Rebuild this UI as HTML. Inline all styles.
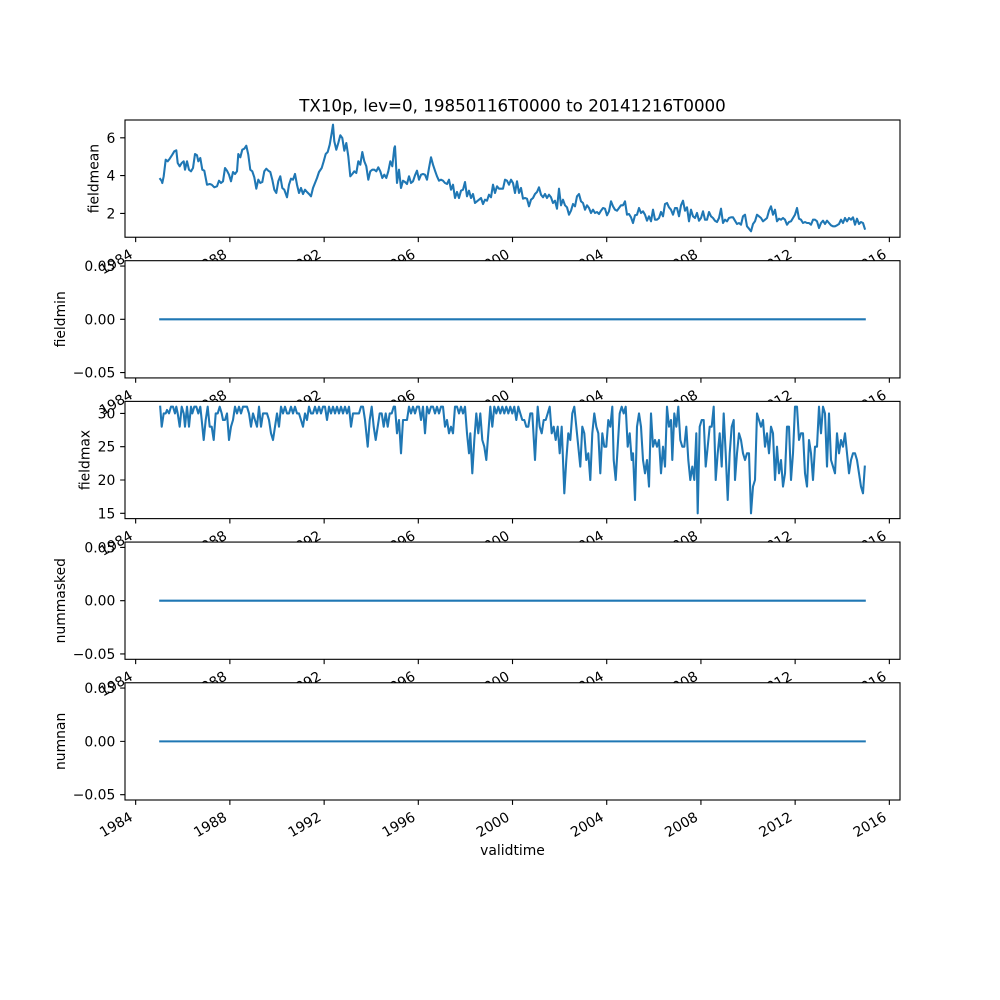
<!DOCTYPE html>
<html><head><meta charset="utf-8"><style>
html,body{margin:0;padding:0;background:#fff;}
svg{display:block;}
text{font-family:"DejaVu Sans","Liberation Sans",sans-serif;fill:#000;}
.tl{font-size:13.9px;}
.yl{font-size:13.9px;text-anchor:end;}
.xl{font-size:13.9px;text-anchor:end;}
.ax{fill:none;stroke:#000;stroke-width:1.11;}
.tk{stroke:#000;stroke-width:1.11;fill:none;}
.ln{fill:none;stroke:#1f77b4;stroke-width:2.08;stroke-linejoin:round;stroke-linecap:square;}
</style></head><body>
<svg width="1000" height="1000" viewBox="0 0 1000 1000" xmlns="http://www.w3.org/2000/svg">
<rect width="1000" height="1000" fill="#fff"/>

<!-- Title -->
<text x="512.5" y="111.7" font-size="16.7" text-anchor="middle">TX10p, lev=0, 19850116T0000 to 20141216T0000</text>

<!-- ============ Panel 1 ============ -->
<rect x="125" y="120" width="775" height="117.24" fill="#fff"/>
<polyline class="ln" points="160.2,179 161.5,180.7 162.3,183 163.7,176.3 165.7,159.7 167.7,161.3 169.7,158.7 172.3,154.7 174.3,151.3 176.3,150.3 177.7,163 179.7,166.3 181.7,163 183.7,161.3 185,169.7 187,161.3 189,169.7 191,171.3 193,168 195,154 197,155.3 198.3,161.3 200.3,158 202.3,169.7 204.3,170.7 207,184.7 209.7,184 211.7,184.7 214.3,187.3 217,186.3 219,180.7 221,183 223,181.3 225,168 227,170.7 229,174.7 231,181.3 233,172 235,174 237,171.3 238.3,154 240.3,157.3 242.3,149.7 244.3,148.7 246.3,145.7 248.3,154.7 250.3,169.7 252.3,171.3 254.3,177.3 256.3,188.7 258.3,179.7 260.3,183 262.3,182 264.3,171.3 266.3,168.7 268.3,170.7 270.3,172 272.3,179.7 274.3,189.7 276.3,193 278.3,181.3 280.3,176.3 282.3,188 284.3,189.7 287,197.3 289,184.7 291,178.7 293,179.7 295,174 297,184.7 299,193 301,188 303,194 305,189.7 307,192 309,194 311,196.3 313,188 315,183 317,178 319,172 321.7,168 323.7,161.3 325.7,154 327.7,152 329.7,144.7 331.7,133 333,124.7 334.3,141.3 336.3,149.7 338.3,143 340.3,135.3 342.3,138 344.3,150.7 346.3,143 348.3,156.3 350.3,176.3 352.3,174 354.3,171.3 356.3,173 358.3,161.3 360.3,164.7 362.3,152 364.3,161.3 366.3,166.3 368.3,179.7 370.3,171.3 372.3,169.7 374.3,169.7 376.3,171.3 378.3,167.3 380.3,171.3 382.3,178 384.3,174.7 386.3,178 388.3,171.3 390.3,161.3 392.3,166.3 394.3,148 395,146.3 397,183 399,169.7 401,188 403,180.7 405,182 407,184 409,176.3 411,183 413,181.3 415,175.3 417,170.7 419,179.7 421,174.7 423,174 425,174.7 427,179.7 429,168 431,157.3 433,164.7 435,170.7 437,176.3 439,180.7 441,179.7 443,180.7 445,183 447,184 449,179.7 451,189.7 453,184.7 455,198 457,192 459,198 461,190.7 463,189.7 465,182 467,196.3 469,190.7 471,198 473,194 475,203 477,201.3 479,199.7 481,198 483,204 485,199.7 487,200.7 489,194.7 491,197.3 493,184.7 495,193 497,186.3 499,188.7 501,188.7 503,188.7 505,179.7 507,180.7 509,184.7 511,179.7 513,183 515,193 517,181.3 519,193 521,188 523,198.7 525,198 527,198.7 529,206.3 531,199.7 533,198 535,194 537,192 539,187.3 541,194.7 543,197.3 545,194 547,198 549,194.7 551,197.3 553,203 555,200.7 557,208.7 559,188.7 561,205.3 563,199.7 565,205.3 567,207.3 569,214.7 571,210.7 573,204 575,206.3 577,196.3 579,194 581,201.3 583,203 585,209.7 587,205.3 589,208 591,213 593,209.7 595,213 597,212 599,214 601,210.7 603,208 605,208.7 607,215.3 609,211.3 611,201.3 613,206.3 615,209.7 617,210.7 619,208 621,205.3 623,205.3 625,201.3 627,214.7 629,214 631,217.3 633,223 635,215.3 637,214.7 639,208 641,213 643,211.3 645,214.7 647,220.7 649,216.3 651,221.3 653,209.7 655,219.7 657,219.7 659,218 661,212 663,216.3 665,204 667,203 669,207.3 671,209.7 673,214.7 675,208 677,208 679,216.3 681,205.3 683,200.7 685,210.7 687,207.3 689,221.3 691,209.7 693,216.3 695,218 697,213 699,220.7 701,218 703,211.3 705,219.7 707,219.7 709,212 711,216.3 713,218 715,220.7 717,222 719,218 721,208.7 723,223 725,219.7 727,221.3 729,218 731,217.3 733,217.3 735,220.7 737,224 739,223 741,224.7 743,216.3 745,214.7 747,226.3 749,228.7 751,231.3 753,224 755,221.3 757,214.7 759,216.3 761,218 763,221.3 765,219.7 767,218 769,210.7 771,206.3 773,214.7 775,209.7 777,221.3 779,218.7 781,219.7 783,218 785,219.7 787,224.7 789,222 791,221.3 793,218 795,214.7 797,208 799,218.7 801,219.7 803,223 805,222 807,223 809,223 811,224.7 813,219.7 815,219.7 817,221.3 819,228 821,223 823,220.7 825,224 827,220.7 829,223 831,225.3 833,226.3 835,226.3 837,225.3 839,224 841,219.7 843,223 845,218 847,221.3 849,218 851,219.7 853,217.3 855,224.7 857,218.7 859,224 861,222 863,223 864.8,228.7"/>
<rect class="ax" x="125" y="120" width="775" height="117.24"/>
<path class="tk" d="M135.66 237.24v4.86M229.87 237.24v4.86M324.15 237.24v4.86M418.3 237.24v4.86M512.51 237.24v4.86M606.72 237.24v4.86M700.93 237.24v4.86M795.14 237.24v4.86M889.35 237.24v4.86M125 213.4h-4.86M125 175.6h-4.86M125 137.8h-4.86"/>
<text class="yl" x="115.3" y="218.4">2</text>
<text class="yl" x="115.3" y="180.6">4</text>
<text class="yl" x="115.3" y="142.8">6</text>
<g class="xl">
<text transform="translate(133.7,257) rotate(-30)">1984</text>
<text transform="translate(227.9,257) rotate(-30)">1988</text>
<text transform="translate(322.2,257) rotate(-30)">1992</text>
<text transform="translate(416.3,257) rotate(-30)">1996</text>
<text transform="translate(510.5,257) rotate(-30)">2000</text>
<text transform="translate(604.7,257) rotate(-30)">2004</text>
<text transform="translate(698.9,257) rotate(-30)">2008</text>
<text transform="translate(793.1,257) rotate(-30)">2012</text>
<text transform="translate(887.4,257) rotate(-30)">2016</text>
</g>
<text class="tl" transform="translate(98.5,178.6) rotate(-90)" text-anchor="middle">fieldmean</text>

<!-- ============ Panel 2 ============ -->
<rect x="125" y="260.69" width="775" height="117.24" fill="#fff"/>
<line class="ln" x1="160.23" y1="319.31" x2="864.77" y2="319.31"/>
<rect class="ax" x="125" y="260.69" width="775" height="117.24"/>
<path class="tk" d="M135.66 377.93v4.86M229.87 377.93v4.86M324.15 377.93v4.86M418.3 377.93v4.86M512.51 377.93v4.86M606.72 377.93v4.86M700.93 377.93v4.86M795.14 377.93v4.86M889.35 377.93v4.86M125 266.02h-4.86M125 319.31h-4.86M125 372.6h-4.86"/>
<text class="yl" x="115.3" y="271.02">0.05</text>
<text class="yl" x="115.3" y="324.31">0.00</text>
<text class="yl" x="115.3" y="377.6">−0.05</text>
<g class="xl">
<text transform="translate(133.7,397.7) rotate(-30)">1984</text>
<text transform="translate(227.9,397.7) rotate(-30)">1988</text>
<text transform="translate(322.2,397.7) rotate(-30)">1992</text>
<text transform="translate(416.3,397.7) rotate(-30)">1996</text>
<text transform="translate(510.5,397.7) rotate(-30)">2000</text>
<text transform="translate(604.7,397.7) rotate(-30)">2004</text>
<text transform="translate(698.9,397.7) rotate(-30)">2008</text>
<text transform="translate(793.1,397.7) rotate(-30)">2012</text>
<text transform="translate(887.4,397.7) rotate(-30)">2016</text>
</g>
<text class="tl" transform="translate(64.8,319.31) rotate(-90)" text-anchor="middle">fieldmin</text>

<!-- ============ Panel 3 ============ -->
<rect x="125" y="401.38" width="775" height="117.24" fill="#fff"/>
<polyline class="ln" points="160.2,406.7 161.7,426.7 163.7,413.4 165.7,413.4 167,410 169,413.4 171,406.7 173,406.7 175,413.4 176.3,406.7 177.7,413.4 179.7,426.7 181.7,406.7 183.7,413.4 185,426.7 187,406.7 189,426.7 191,406.7 192.3,413.4 194.3,406.7 196.3,406.7 198.3,413.4 200.3,406.7 201.7,420 203.7,440 205.7,420 207.7,406.7 209.7,426.7 211.7,426.7 213.7,440 215.7,413.4 217.7,413.4 219.7,406.7 221.7,413.4 223,420 225,420 227,413.4 229,440 231,426.7 233,420 235,406.7 237,413.4 239,406.7 241,413.4 243,406.7 245,406.7 247,406.7 249,413.4 251,426.7 253,413.4 255,420 257,426.7 259,406.7 261,426.7 263,413.4 265,413.4 267,413.4 269,420 271,433.3 273,440 275,426.7 277,413.4 279,426.7 281,406.7 283,413.4 285,406.7 287,413.4 289,413.4 291,406.7 293,413.4 295,406.7 297,413.4 299,413.4 301,420 303,426.7 305,413.4 307,420 309,406.7 311,413.4 313,413.4 315,406.7 317,413.4 319,406.7 321,413.4 323,406.7 325,406.7 327,420 329,406.7 331,413.4 333,406.7 335,413.4 337,406.7 339,413.4 341,406.7 343,413.4 345,406.7 347,413.4 349,406.7 351,426.7 353,413.4 355,413.4 357,413.4 359,413.4 361,406.7 363,406.7 365,420 367.7,446.7 369.7,420 371.7,406.7 373.7,426.7 375.7,440 377.7,426.7 379.7,413.4 381.7,413.4 383.7,426.7 385.7,413.4 387.7,426.7 389.7,413.4 391.7,413.4 393.7,406.7 395,406.7 397,433.3 399,420 401,453.3 403,420 405,420 407,420 409,406.7 411,413.4 413,406.7 415,413.4 417,406.7 419,406.7 421,420 423,406.7 425,433.3 427,406.7 429,413.4 431,406.7 433,406.7 435,413.4 437,406.7 439,413.4 441,406.7 443,406.7 445,426.7 447,420 449,433.3 451,426.7 453,433.3 455,406.7 457,406.7 459,413.4 461,406.7 463,413.4 465,406.7 467,433.3 469,453.3 470.3,433.3 472.3,473.3 474.3,440 476.3,413.4 478.3,433.3 480.3,413.4 482.3,440 484.3,446.7 486.3,460 488.3,433.3 490.3,406.7 492.3,426.7 494.3,406.7 496.3,413.4 498.3,406.7 500.3,413.4 502.3,406.7 504.3,413.4 506.3,406.7 508.3,413.4 510.3,406.7 512.3,413.4 514.3,406.7 516.3,420 518.3,406.7 520.3,413.4 522.3,420 524.3,420 526.3,426.7 528.3,426.7 530.3,413.4 532.3,413.4 535,460 537.7,406.7 539.7,426.7 541.7,433.3 543.7,420 545.7,420 547.7,413.4 549.7,406.7 551.7,433.3 553.7,426.7 555.7,440 557.7,426.7 559.7,453.3 561.7,426.7 564.3,493.3 566.3,460 568.3,433.3 570.3,440 572.3,413.4 574.3,406.7 576.3,426.7 578.3,446.7 580.3,466.6 582.3,426.7 584.3,433.3 586.3,460 588.3,453.3 590.3,480 592.3,433.3 594.3,413.4 596.3,426.7 598.3,433.3 600.3,473.3 602.3,433.3 604.3,446.7 606.3,446.7 608.3,420 610.3,426.7 612.3,406.7 613.7,460 615.7,480 617.7,446.7 619.7,413.4 621.7,406.7 623.7,413.4 625.7,406.7 627.7,446.7 629.7,433.3 631.7,460 633,453.3 635,500 637,426.7 639,413.4 641,426.7 643,460 645,473.3 647,460 649,486.6 651,413.4 653,446.7 655,440 657,446.7 659,440 661,473.3 663,446.7 665,466.6 667,406.7 669,426.7 671,420 672.3,460 674.3,413.4 676.3,426.7 678.3,406.7 680.3,440 682.3,446.7 684.3,446.7 686.3,426.7 688.3,460 690.3,480 692.3,466.6 694.3,480 696.3,433.3 697.7,513.3 699.7,426.7 701.7,420 703.7,420 705.7,466.6 707.7,446.7 709.7,426.7 711.7,426.7 713.7,406.7 715.7,480 717.7,453.3 719.7,433.3 721.7,466.6 723.7,413.4 725.7,453.3 727.7,500 729.7,453.3 731.7,426.7 733.7,420 735,480 737,453.3 739,433.3 741,440 743,453.3 745,460 747,453.3 749,453.3 751,513.3 753,486.6 755,480 757,413.4 759,420 761,426.7 763,420 765,446.7 767,433.3 769,453.3 771,426.7 773,433.3 775,480 777,446.7 779,473.3 781,460 783,486.6 785,473.3 787,426.7 789,426.7 791,480 793,453.3 795,406.7 797,406.7 799,440 801,433.3 803,433.3 805,473.3 807,486.6 809,440 811,453.3 813,480 815,446.7 817,446.7 819,406.7 821,433.3 823,406.7 825,413.4 827,466.6 829,413.4 831,460 833,466.6 835,473.3 837,433.3 839,453.3 841,440 843,446.7 845,433.3 847,453.3 849,473.3 851,460 853,453.3 855,453.3 857,460 859,473.3 861,486.6 863,493.3 864.8,466.6"/>
<rect class="ax" x="125" y="401.38" width="775" height="117.24"/>
<path class="tk" d="M135.66 518.62v4.86M229.87 518.62v4.86M324.15 518.62v4.86M418.3 518.62v4.86M512.51 518.62v4.86M606.72 518.62v4.86M700.93 518.62v4.86M795.14 518.62v4.86M889.35 518.62v4.86M125 513.3h-4.86M125 480h-4.86M125 446.7h-4.86M125 413.4h-4.86"/>
<text class="yl" x="115.3" y="518.3">15</text>
<text class="yl" x="115.3" y="485">20</text>
<text class="yl" x="115.3" y="451.7">25</text>
<text class="yl" x="115.3" y="418.4">30</text>
<g class="xl">
<text transform="translate(133.7,538.4) rotate(-30)">1984</text>
<text transform="translate(227.9,538.4) rotate(-30)">1988</text>
<text transform="translate(322.2,538.4) rotate(-30)">1992</text>
<text transform="translate(416.3,538.4) rotate(-30)">1996</text>
<text transform="translate(510.5,538.4) rotate(-30)">2000</text>
<text transform="translate(604.7,538.4) rotate(-30)">2004</text>
<text transform="translate(698.9,538.4) rotate(-30)">2008</text>
<text transform="translate(793.1,538.4) rotate(-30)">2012</text>
<text transform="translate(887.4,538.4) rotate(-30)">2016</text>
</g>
<text class="tl" transform="translate(89.5,460) rotate(-90)" text-anchor="middle">fieldmax</text>

<!-- ============ Panel 4 ============ -->
<rect x="125" y="542.07" width="775" height="117.24" fill="#fff"/>
<line class="ln" x1="160.23" y1="600.69" x2="864.77" y2="600.69"/>
<rect class="ax" x="125" y="542.07" width="775" height="117.24"/>
<path class="tk" d="M135.66 659.31v4.86M229.87 659.31v4.86M324.15 659.31v4.86M418.3 659.31v4.86M512.51 659.31v4.86M606.72 659.31v4.86M700.93 659.31v4.86M795.14 659.31v4.86M889.35 659.31v4.86M125 547.4h-4.86M125 600.69h-4.86M125 653.98h-4.86"/>
<text class="yl" x="115.3" y="552.4">0.05</text>
<text class="yl" x="115.3" y="605.69">0.00</text>
<text class="yl" x="115.3" y="658.98">−0.05</text>
<g class="xl">
<text transform="translate(133.7,679.1) rotate(-30)">1984</text>
<text transform="translate(227.9,679.1) rotate(-30)">1988</text>
<text transform="translate(322.2,679.1) rotate(-30)">1992</text>
<text transform="translate(416.3,679.1) rotate(-30)">1996</text>
<text transform="translate(510.5,679.1) rotate(-30)">2000</text>
<text transform="translate(604.7,679.1) rotate(-30)">2004</text>
<text transform="translate(698.9,679.1) rotate(-30)">2008</text>
<text transform="translate(793.1,679.1) rotate(-30)">2012</text>
<text transform="translate(887.4,679.1) rotate(-30)">2016</text>
</g>
<text class="tl" transform="translate(64.8,600.69) rotate(-90)" text-anchor="middle">nummasked</text>

<!-- ============ Panel 5 ============ -->
<rect x="125" y="682.76" width="775" height="117.24" fill="#fff"/>
<line class="ln" x1="160.23" y1="741.38" x2="864.77" y2="741.38"/>
<rect class="ax" x="125" y="682.76" width="775" height="117.24"/>
<path class="tk" d="M135.66 800v4.86M229.87 800v4.86M324.15 800v4.86M418.3 800v4.86M512.51 800v4.86M606.72 800v4.86M700.93 800v4.86M795.14 800v4.86M889.35 800v4.86M125 688.09h-4.86M125 741.38h-4.86M125 794.67h-4.86"/>
<text class="yl" x="115.3" y="693.09">0.05</text>
<text class="yl" x="115.3" y="746.38">0.00</text>
<text class="yl" x="115.3" y="799.67">−0.05</text>
<g class="xl">
<text transform="translate(133.7,819.8) rotate(-30)">1984</text>
<text transform="translate(227.9,819.8) rotate(-30)">1988</text>
<text transform="translate(322.2,819.8) rotate(-30)">1992</text>
<text transform="translate(416.3,819.8) rotate(-30)">1996</text>
<text transform="translate(510.5,819.8) rotate(-30)">2000</text>
<text transform="translate(604.7,819.8) rotate(-30)">2004</text>
<text transform="translate(698.9,819.8) rotate(-30)">2008</text>
<text transform="translate(793.1,819.8) rotate(-30)">2012</text>
<text transform="translate(887.4,819.8) rotate(-30)">2016</text>
</g>
<text class="tl" transform="translate(64.8,741.38) rotate(-90)" text-anchor="middle">numnan</text>

<text class="tl" x="512.5" y="855" text-anchor="middle">validtime</text>
</svg>
</body></html>
